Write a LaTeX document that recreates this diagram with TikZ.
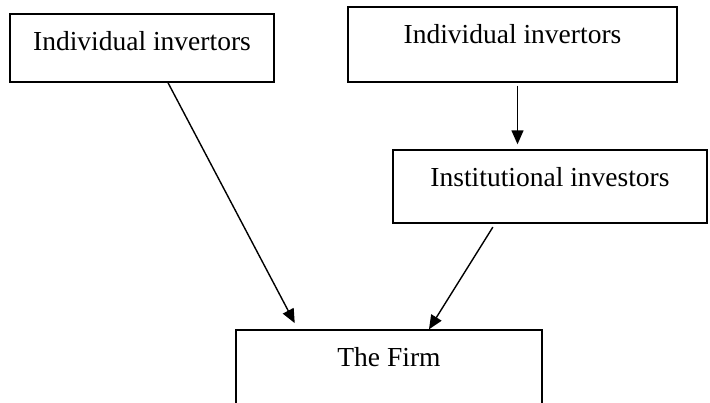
\documentclass[tikz,border=0pt]{standalone}
\usepackage{fontspec}
\setmainfont{Liberation Serif}
\usetikzlibrary{arrows.meta}

\begin{document}
\begin{tikzpicture}[x=1pt, y=1pt, line width=1.4pt,
    every node/.style={font=\fontsize{27.5}{32}\selectfont},
    box/.style={draw, rectangle, inner xsep=0pt, inner ysep=0pt, text height=36pt},
    >={Triangle[length=14pt, width=12pt]}]
    \useasboundingbox (0, 0) rectangle (710, -402);
    \node [box, minimum width=264pt, text depth=32pt] (ind1) at (142, -48) {Individual invertors};
    \node [box, minimum width=329pt, text depth=39pt] (ind2) at (512.5, -44.5) {Individual invertors};
    \node [box, minimum width=314pt, text depth=37pt] (inst) at (550, -186.5) {Institutional investors};
    \node [box, minimum width=306pt, text depth=39pt] (firm) at (389, -367.5) {The Firm};
    \draw [->, shorten >=7pt] ([xshift=26pt]ind1.south) -- ([xshift=-91pt]firm.north);
    \draw [->, shorten <=3pt, shorten >=5pt] ([xshift=5pt]ind2.south) -- ([xshift=5pt]ind2.south |- inst.north);
    \draw [->, shorten <=4pt] ([xshift=-55pt]inst.south) -- ([xshift=40pt]firm.north);
  \end{tikzpicture}
\end{document}
